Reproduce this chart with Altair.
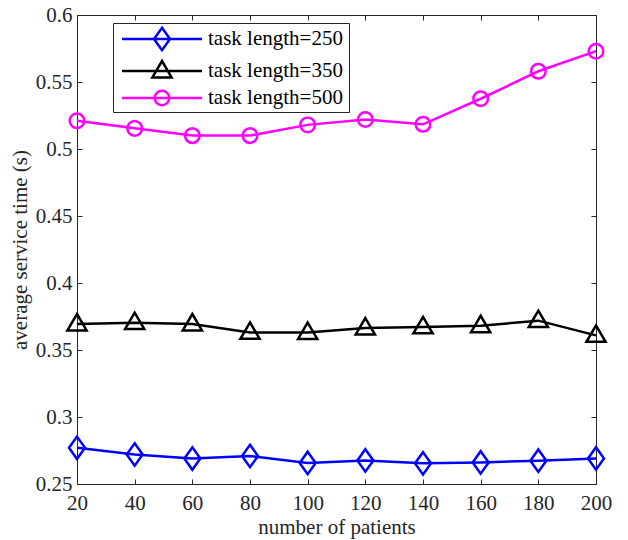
import altair as alt
import pandas as pd

# Number of patients on the x axis
patients = [20, 40, 60, 80, 100, 120, 140, 160, 180, 200]

# Average service time (s) per task length
len250 = [0.2770, 0.2720, 0.2690, 0.2709, 0.2657, 0.2676, 0.2654, 0.2661, 0.2674, 0.2691]
len350 = [0.3694, 0.3704, 0.3694, 0.3631, 0.3630, 0.3664, 0.3672, 0.3681, 0.3719, 0.3609]
len500 = [0.5211, 0.5154, 0.5100, 0.5100, 0.5180, 0.5220, 0.5184, 0.5375, 0.5580, 0.5730]

series = ["task length=250", "task length=350", "task length=500"]
colors = ["#0000ff", "#000000", "#ff00ff"]
y_ticks = [0.25, 0.3, 0.35, 0.4, 0.45, 0.5, 0.55, 0.6]

# Hollow marker outlines in unit coordinates
marker_paths = [
    "M0,-1.4L1,0L0,1.4L-1,0Z",
    "M0,-1.25L1.2,0.8L-1.2,0.8Z",
    "M0.91,0A0.91,0.91,0,1,1,-0.91,0A0.91,0.91,0,1,1,0.91,0Z",
]
# Legend keys (drawn at a larger symbol size): a line segment with the marker
# in its middle; the trailing move-to widens the legend box
_seg = "M-0.5185,0L5.407,0"
_pad = "M15.8,0"
legend_paths = [
    _seg + "M2.444,-0.8296L3.037,0L2.444,0.8296L1.852,0Z" + _pad,
    _seg + "M2.444,-0.7407L3.155,0.474L1.733,0.474Z" + _pad,
    _seg + "M2.983,0A0.539,0.539,0,1,1,1.905,0A0.539,0.539,0,1,1,2.983,0Z" + _pad,
]

rows = []
for name, vals in zip(series, [len250, len350, len500]):
    for p, v in zip(patients, vals):
        rows.append({"patients": p, "time": v, "series": name})
df = pd.DataFrame(rows)

FONT = "Liberation Serif"
AX = "#262626"
W, H = 519, 469

xs = alt.Scale(domain=[20, 200], nice=False)
ys = alt.Scale(domain=[0.25, 0.6], nice=False, zero=False)
inward = {"expr": "-5"}

base = alt.Chart(df)

lines = base.mark_line(strokeWidth=2.5).encode(
    x=alt.X("patients:Q", scale=xs, axis=alt.Axis(
        orient="bottom", values=patients, title="number of patients",
        tickSize=inward, labelFlush=False, labelOverlap=False,
        labelBaseline="alphabetic", labelPadding=30,
        titleY=49, titleBaseline="alphabetic", grid=False)),
    y=alt.Y("time:Q", scale=ys, axis=alt.Axis(
        orient="left", values=y_ticks, format=".2~f",
        title="average service time (s)", tickSize=inward,
        labelFlush=False, labelOverlap=False, labelPadding=10,
        titleX=-50.5, titleBaseline="alphabetic", grid=False)),
    color=alt.Color("series:N", scale=alt.Scale(domain=series, range=colors), legend=None),
)

points = base.mark_point(filled=False, size=256, strokeWidth=2.5, opacity=1).encode(
    x=alt.X("patients:Q", scale=xs, axis=alt.Axis(
        orient="top", values=patients, labels=False, title=None,
        tickSize=inward, grid=False)),
    y=alt.Y("time:Q", scale=ys, axis=alt.Axis(
        orient="right", values=y_ticks, labels=False, title=None,
        tickSize=inward, grid=False)),
    color=alt.Color("series:N", scale=alt.Scale(domain=series, range=colors), legend=None),
    shape=alt.Shape("series:N", scale=alt.Scale(domain=series, range=marker_paths), legend=None),
)

legend_cfg = dict(
    orient="none", legendX=36, legendY=8, title=None,
    strokeColor=AX, fillColor="white", padding=1,
    labelFont=FONT, labelFontSize=21, labelColor="black", labelLimit=400,
    labelOffset=64, rowPadding=-5.3,
    symbolSize=729, symbolStrokeWidth=2.5, symbolOpacity=1,
)

legend_layer = base.transform_filter("false").mark_point(
    filled=False, size=729, strokeWidth=2.5, opacity=1
).encode(
    color=alt.Color("series:N", scale=alt.Scale(domain=series, range=colors),
                    legend=alt.Legend(**legend_cfg)),
    shape=alt.Shape("series:N", scale=alt.Scale(domain=series, range=legend_paths),
                    legend=alt.Legend(**legend_cfg)),
)

chart = alt.layer(lines, points, legend_layer).resolve_scale(
    color="independent", shape="independent"
).properties(
    width=W, height=H,
    padding={"left": 77, "top": 15, "right": 32, "bottom": 56},
    autosize=alt.AutoSizeParams(type="none"),
).configure_view(stroke=None).configure_axis(
    domainColor=AX, tickColor=AX, labelColor=AX, titleColor=AX,
    labelFont=FONT, titleFont=FONT, labelFontSize=21, titleFontSize=21,
    titleFontWeight="normal", domainWidth=1, tickWidth=1,
)

chart.save("out.html", embed_options={"renderer": "svg", "actions": False})
